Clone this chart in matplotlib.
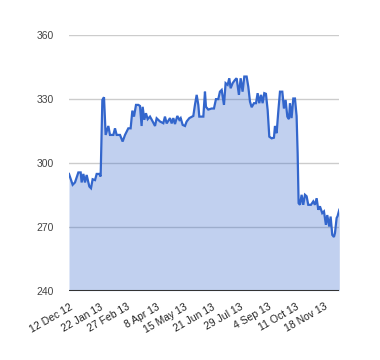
import matplotlib
matplotlib.use("Agg")
import matplotlib.pyplot as plt

# day offsets from 12 Dec 2012
days = [0, 4.9, 8.0, 12.5, 15.6, 16.9, 19.2, 21.4, 23.6, 27.2, 29.4, 31.6, 34.8, 37.0, 40.6, 42.3,
        44.6, 46.8, 49.0, 52.6, 54.8, 59.3, 61.5, 63.7, 68.2, 71.7, 74.9, 79.3, 82.4, 84.7, 86.9,
        89.6, 92.7, 94.9, 97.1, 98.5, 100.7, 102.9, 105.2, 108.3, 111.9, 115.0, 117.2, 121.7,
        126.1, 128.3, 130.6, 135.0, 137.3, 139.5, 141.7, 144.8, 147.5, 149.3, 152.0, 155.1,
        157.3, 160.9, 164.0, 166.2, 168.4, 170.7, 172.9, 174.2, 179.6, 181.8, 183.1, 186.2,
        190.7, 193.8, 196.5, 199.6, 201.8, 204.1, 207.2, 209.4, 212.1, 214.3, 216.1, 218.8,
        221.9, 224.1, 227.2, 229.5, 232.1, 234.4, 237.5, 239.7, 242.0, 244.2, 247.3, 250.0,
        252.2, 254.4, 256.7, 258.9, 261.1, 263.3, 265.6, 267.8, 270.9, 274.0, 275.4, 277.6,
        279.8, 282.1, 285.2, 287.4, 289.6, 291.9, 294.1, 295.4, 297.6, 299.9, 302.1, 304.3,
        305.7, 307.0, 308.8, 311.0, 313.2, 315.5, 317.7, 319.9, 323.5, 326.6, 328.8, 331.1,
        333.3, 335.5, 338.6, 340.9, 343.5, 345.3, 348.0, 349.8, 352.0, 354.2, 355.6, 357.8,
        359.1, 361.4]
values = [294.8, 289.7, 290.8, 295.5, 295.5, 290.8, 294.8, 290.8, 294.3, 288.9, 288.1, 292.3,
          291.9, 294.8, 294.8, 293.6, 329.5, 330.8, 313.1, 317.3, 313.1, 313.1, 316.2, 313.1,
          313.1, 310.0, 313.1, 316.2, 316.2, 324.5, 321.7, 327.2, 327.2, 326.7, 317.3, 326.3,
          320.2, 323.3, 320.5, 321.7, 319.4, 317.3, 320.9, 319.4, 318.6, 321.7, 318.5, 321.0,
          318.5, 321.0, 318.2, 322.0, 320.2, 321.0, 317.8, 317.3, 319.4, 321.0, 321.6, 322.0,
          327.2, 331.9, 327.2, 321.7, 321.7, 333.4, 326.3, 325.0, 325.5, 325.5, 329.9, 329.9,
          333.4, 334.2, 327.2, 337.4, 336.6, 339.7, 335.0, 337.4, 338.9, 339.7, 331.9, 339.7,
          333.4, 340.5, 340.5, 335.8, 328.7, 326.1, 328.0, 328.0, 332.7, 328.0, 331.9, 328.0,
          332.7, 332.4, 324.8, 312.3, 311.5, 311.8, 317.3, 313.9, 324.0, 333.4, 333.4, 325.5,
          329.5, 321.7, 320.5, 328.0, 321.0, 330.2, 330.2, 322.0, 304.5, 281.1, 280.3, 285.0,
          280.3, 285.0, 284.3, 280.3, 280.3, 281.9, 280.3, 283.4, 278.0, 279.6, 276.4, 277.2,
          270.9, 275.5, 270.1, 274.8, 266.2, 265.2, 267.0, 274.1, 275.0, 278.0]

tick_days = [0, 41, 77, 117, 154, 191, 229, 266, 303, 341]
tick_labels = ["12 Dec 12", "22 Jan 13", "27 Feb 13", "8 Apr 13", "15 May 13",
               "21 Jun 13", "29 Jul 13", "4 Sep 13", "11 Oct 13", "18 Nov 13"]
y_ticks = [240, 270, 300, 330, 360]

plt.rcParams['font.family'] = ['Liberation Sans', 'DejaVu Sans']
fig = plt.figure(figsize=(3.8, 3.6), dpi=100)
ax = fig.add_axes([69/380, 1-290.7/360, (339.3-69)/380, (290.7-35)/360])

for y in y_ticks[1:]:
    ax.axhline(y, color='#cccccc', lw=1, zorder=0)
ax.fill_between(days, values, 240, color='#3366cc', alpha=0.3, lw=0, zorder=1)
ax.plot(days, values, color='#3366cc', lw=1.6, zorder=2, solid_joinstyle='miter')
ax.axhline(240, color='#333333', lw=1.5, zorder=3)

ax.set_xlim(days[0], days[-1])
ax.set_ylim(240, 360)
ax.set_yticks(y_ticks)
ax.set_yticklabels([str(v) for v in y_ticks], color='#444444', fontsize=7.5)
ax.set_xticks(tick_days)
ax.set_xticklabels(tick_labels, rotation=30, ha='right', va='top', rotation_mode='anchor',
                   color='#222222', fontsize=7.5)
ax.tick_params(axis='both', length=0)
ax.tick_params(axis='y', pad=11)
ax.tick_params(axis='x', pad=8)
for s in ax.spines.values():
    s.set_visible(False)
ax.set_facecolor('white')

fig.savefig('out.png', dpi=100)
